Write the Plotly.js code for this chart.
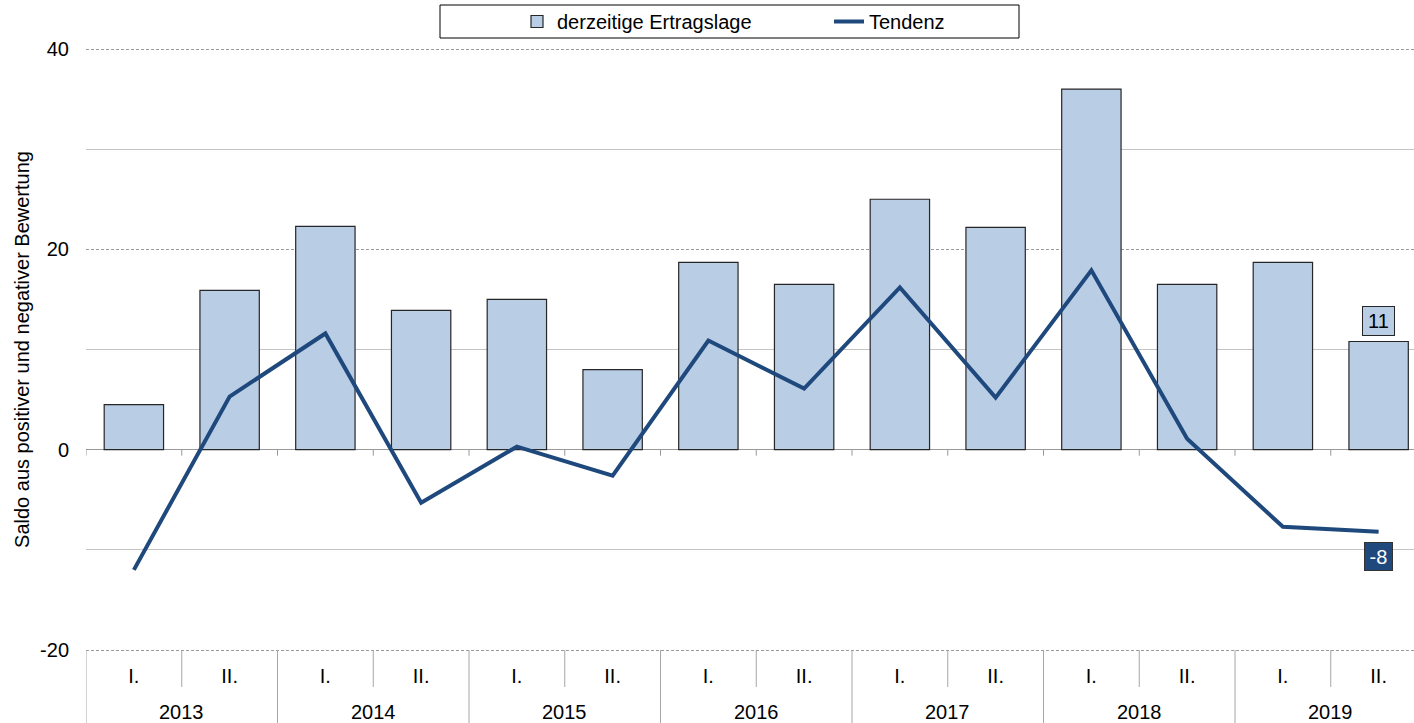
<!DOCTYPE html>
<html>
<head>
<meta charset="utf-8">
<script src="https://cdn.plot.ly/plotly-3.0.1.min.js"></script>
<style>html,body{margin:0;padding:0;background:#fff}#chart{width:1414px;height:723px}</style>
</head>
<body>
<div id="chart"></div>
<script>
// ---- data ----
const years = ['2013', '2014', '2015', '2016', '2017', '2018', '2019'];
const halves = ['I.', 'II.', 'I.', 'II.', 'I.', 'II.', 'I.', 'II.', 'I.', 'II.', 'I.', 'II.', 'I.', 'II.'];
const ertragslage = [4.5, 15.9, 22.3, 13.9, 15.0, 8.0, 18.7, 16.5, 25.0, 22.2, 36.0, 16.5, 18.7, 10.8];
const tendenz = [-12.0, 5.3, 11.6, -5.3, 0.3, -2.6, 10.9, 6.1, 16.2, 5.2, 17.9, 1.1, -7.7, -8.2];
const yTickValues = [-20, 0, 20, 40];
const seriesNames = ['derzeitige Ertragslage', 'Tendenz'];
const yTitle = 'Saldo aus positiver und negativer Bewertung';

// ---- derived ----
const idx = halves.map((_, i) => i);
const FONT = 'Liberation Sans, Arial, sans-serif';
const barColor = '#B9CDE5';
const lineColor = '#1F497D';
const tableColor = '#a6a6a6';

const plotTop = 46, plotBottom = 653, plotH = plotBottom - plotTop, plotLeft = 86, plotW = 1414 - 86;
const py = p => (plotBottom - p) / plotH;   // pixel row -> paper y
const px = p => (p - plotLeft) / plotW;     // pixel col -> paper x

const traces = [
  {
    type: 'bar', name: seriesNames[0], x: idx, y: ertragslage, width: 0.62,
    marker: {color: barColor, line: {color: '#262626', width: 1.2}},
    hoverinfo: 'skip'
  },
  {
    type: 'scatter', mode: 'lines', name: seriesNames[1], x: idx, y: tendenz,
    line: {color: lineColor, width: 4}, hoverinfo: 'skip'
  }
];

const shapes = [];
// legend frame
shapes.push({type: 'rect', xref: 'paper', yref: 'paper', x0: px(440), x1: px(1019), y0: py(38), y1: py(5),
  line: {color: '#000', width: 1}, fillcolor: 'rgba(0,0,0,0)'});
// category table lines and zero-line ticks
idx.forEach(i => {
  const b = i - 0.5;
  const yearStart = (i % 2 === 0);
  shapes.push({type: 'line', xref: 'x', yref: 'paper', x0: b, x1: b, y0: py(650), y1: yearStart ? py(723) : py(687),
    line: {color: tableColor, width: 1}});
  shapes.push({type: 'line', xref: 'x', yref: 'y', x0: b, x1: b, y0: 0, y1: -0.6,
    line: {color: '#999', width: 1}});
});
shapes.push({type: 'line', xref: 'x', yref: 'y', x0: 13.5, x1: 13.5, y0: 0, y1: -0.6, line: {color: '#999', width: 1}});

const annotations = [];
years.forEach((yr, k) => {
  annotations.push({xref: 'x', yref: 'paper', x: 2 * k + 0.5, y: py(712), text: yr, showarrow: false,
    xanchor: 'center', yanchor: 'middle', font: {family: FONT, size: 20, color: '#000'}});
});
const last = idx.length - 1;
annotations.push({xref: 'x', yref: 'y', x: last, y: ertragslage[last], text: String(Math.round(ertragslage[last])),
  showarrow: false, xanchor: 'center', yanchor: 'bottom', yshift: 5, bgcolor: barColor, bordercolor: '#262626',
  borderwidth: 1, borderpad: 1, width: 29, height: 26, font: {family: FONT, size: 20, color: '#000'}});
annotations.push({xref: 'x', yref: 'y', x: last, y: tendenz[last], text: String(Math.round(tendenz[last])),
  showarrow: false, xanchor: 'center', yanchor: 'top', yshift: -10, bgcolor: lineColor, bordercolor: '#333',
  borderwidth: 1, borderpad: 1, width: 25, height: 25, font: {family: FONT, size: 20, color: '#fff'}});

const layout = {
  width: 1414, height: 723,
  margin: {l: plotLeft, r: 0, t: plotTop, b: 723 - plotBottom, pad: 0},
  paper_bgcolor: '#fff', plot_bgcolor: '#fff',
  font: {family: FONT, size: 20, color: '#000'},
  showlegend: true,
  xaxis: {
    range: [-0.5, -0.5 + plotW / 95.75], tickvals: idx, ticktext: halves, ticks: '',
    showgrid: false, zeroline: false, showline: false, ticklabelstandoff: 9,
    tickfont: {family: FONT, size: 20, color: '#000'}, fixedrange: true
  },
  yaxis: {
    range: [-20.3, 40.3], tickvals: yTickValues, ticktext: yTickValues.map(v => String(v)), ticks: '', showline: false,
    showgrid: true, gridcolor: '#9a9a9a', gridwidth: 1, griddash: '3px,2px',
    minor: {tickvals: [-10, 10, 30], showgrid: true, gridcolor: '#c4c4c4', gridwidth: 1, griddash: 'solid'},
    zeroline: true, zerolinecolor: '#999', zerolinewidth: 1.5,
    ticklabelstandoff: 16,
    tickfont: {family: FONT, size: 20, color: '#000'},
    title: {text: yTitle, font: {family: FONT, size: 20, color: '#000'}, standoff: 5},
    automargin: false, fixedrange: true
  },
  legend: {
    orientation: 'h', x: px(517), xanchor: 'left', y: py(21.5), yanchor: 'middle',
    bgcolor: 'rgba(0,0,0,0)', borderwidth: 0, entrywidth: 267, entrywidthmode: 'pixels',
    font: {family: FONT, size: 20, color: '#000'}, traceorder: 'normal'
  },
  shapes: shapes,
  annotations: annotations
};

Plotly.newPlot('chart', traces, layout, {displayModeBar: false, staticPlot: true});
</script>
</body>
</html>
